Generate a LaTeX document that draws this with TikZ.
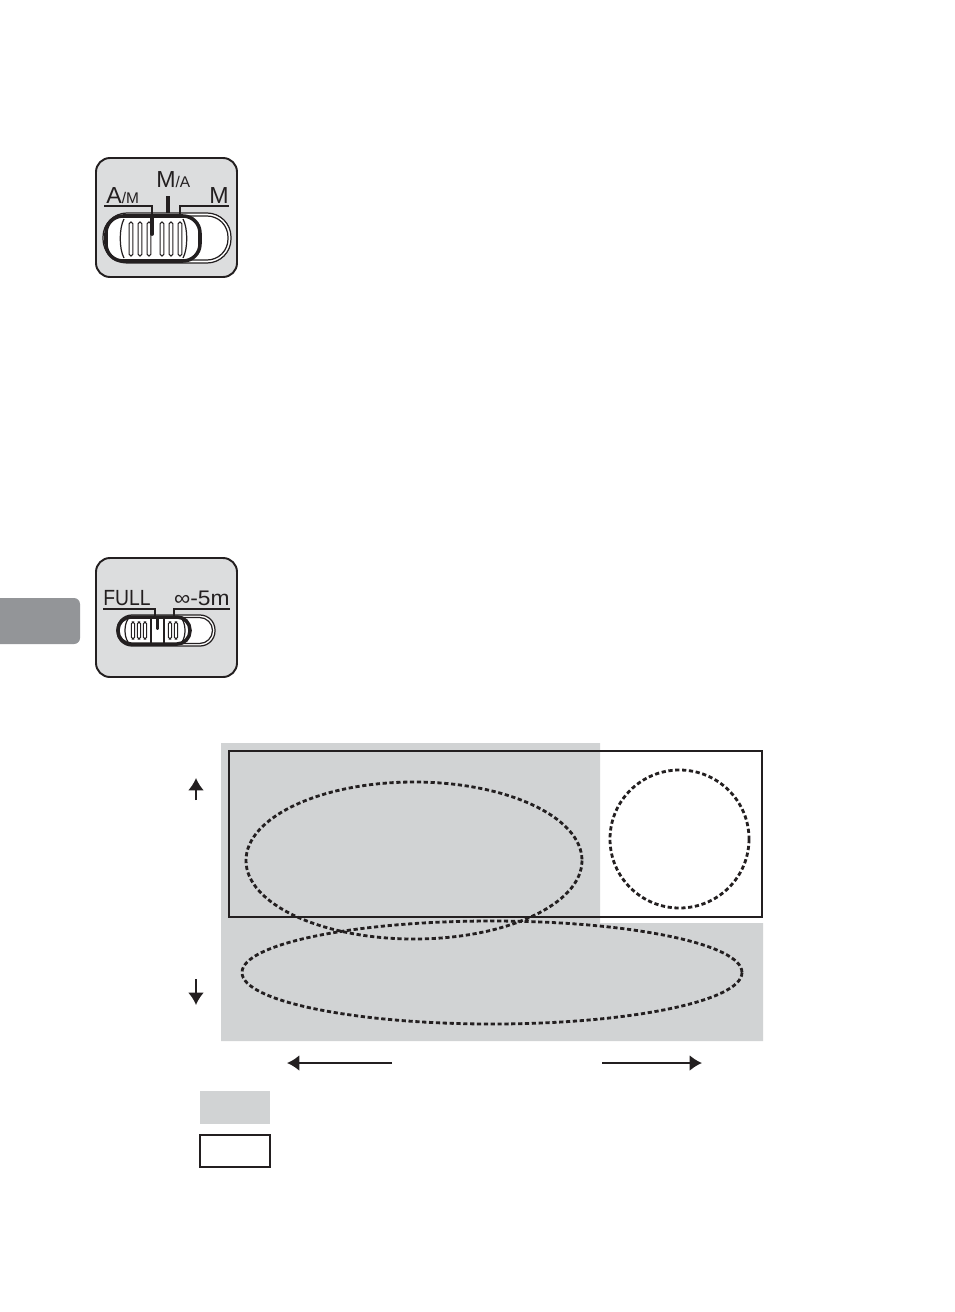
\documentclass[tikz,border=0pt]{standalone}
\usepackage{fontspec}
\setmainfont{Liberation Sans}
\usetikzlibrary{arrows.meta}
\definecolor{swbg}{HTML}{DCDDDE}
\definecolor{ink}{HTML}{231F20}
\definecolor{tabgray}{HTML}{939598}
\definecolor{zone}{HTML}{D1D3D4}
\tikzset{
  swbody/.style={draw=ink, line width=1.1pt, fill=swbg, rounded corners=0.28cm},
  slotline/.style={draw=ink, line width=0.7pt},
  slider/.style={draw=ink, line width=2pt, fill=white},
  ridge/.style={draw=ink, line width=0.6pt, fill=white, rounded corners=0.035cm},
  markline/.style={draw=ink, line width=1.1pt},
  pointer/.style={draw=ink, line width=2.2pt, line cap=round},
  dotline/.style={draw=ink, line width=1.6pt, dash pattern=on 2.4pt off 1.5pt},
  frame/.style={draw=ink, line width=1.2pt},
  moveA/.style={draw=ink, line width=1.2pt, -{Latex[length=7pt,width=9pt]}},
  lbl/.style={inner sep=0pt, text=ink}
}
\newcommand{\bigtx}{\fontsize{13.2}{13}\selectfont}
\newcommand{\smalltx}{\fontsize{8.8}{9}\selectfont}
\begin{document}
\begin{tikzpicture}[x=0.02cm, y=-0.02cm]
\useasboundingbox (0,0) rectangle (954,1312);
\fill[white] (0,0) rectangle (954,1312);

% ---------- Switch 1: A/M  M/A  M ----------
\draw[swbody] (96,158) rectangle (237,277);
% slot (double outline)
\draw[slotline, fill=white, rounded corners=0.48cm] (103,213) rectangle (231,263);
\draw[slotline, rounded corners=0.42cm] (106,216) rectangle (228,260);
% slider
\draw[slider, rounded corners=0.34cm] (106,216) rectangle (200,261);
\draw[ink, line width=0.7pt] (124,219) .. controls (119,228) and (119,249) .. (124,258);
\draw[ink, line width=0.7pt] (183,219) .. controls (188,228) and (188,249) .. (183,258);
\foreach \rx in {131,140,149,162,171,180}{
  \draw[ridge] (\rx-1.8,222) rectangle (\rx+1.8,256);
}
\draw[pointer] (152,217) -- (152,234);
% index marks
\draw[markline] (104,206) -- (152,206) -- (152,214);
\draw[markline] (180,214) -- (180,206) -- (229,206);
\draw[ink, line width=2.2pt] (168,196) -- (168,213);
% labels
\node[lbl, anchor=base west] (lblAM) at (106,203) {\bigtx A\smalltx/M};
\node[lbl, anchor=base west] (lblMA) at (156,187) {\bigtx M\smalltx/A};
\node[lbl, anchor=base east] (lblM) at (229,203) {\bigtx M};

% ---------- side tab ----------
\fill[tabgray, rounded corners=0.12cm] (-10,598) rectangle (80,644);

% ---------- Switch 2: FULL  oo-5m ----------
\draw[swbody] (96,558) rectangle (237,677);
\draw[slotline, fill=white, rounded corners=0.3cm] (117,615) rectangle (215,646);
\draw[slotline, rounded corners=0.26cm] (120,617.5) rectangle (212.5,643.5);
\draw[slider, rounded corners=0.26cm] (118,617) rectangle (190,644);
\draw[ink, line width=0.7pt] (128,619) .. controls (124,625) and (124,636) .. (128,642);
\draw[ink, line width=0.7pt] (182,619) .. controls (186,625) and (186,636) .. (182,642);
\foreach \rx in {133,139,145,170,176}{
  \draw[ridge] (\rx-1.6,622) rectangle (\rx+1.6,639);
}
\draw[ink, line width=0.7pt] (151,618) -- (151,643);
\draw[ink, line width=0.7pt] (164,618) -- (164,643);
\draw[pointer] (157.5,618) -- (157.5,628);
\draw[markline] (103,609) -- (155,609) -- (155,617);
\draw[markline] (174,617) -- (174,609) -- (230,609);
\node[lbl, anchor=base west, xscale=0.88] (lblFULL) at (103,605) {\fontsize{12.5}{12}\selectfont FULL};
\node[lbl, anchor=base east, xscale=1.08] (lblINF) at (230,605) {\fontsize{12}{12}\selectfont ∞-5m};

% ---------- Focus zone diagram ----------
\fill[zone] (221,743) -- (600,743) -- (600,923) -- (763,923) -- (763,1041) -- (221,1041) -- cycle;
\draw[frame] (229,751) rectangle (762,917);
\draw[dotline] (414,860.5) ellipse (168 and 78.5);
\draw[dotline] (679.5,839) ellipse (69.5 and 69);
\draw[dotline] (492,972.5) ellipse (250 and 51.5);

% vertical arrows
\coordinate (upS) at (196,800);
\coordinate (upE) at (196,778);
\coordinate (dnS) at (196,979);
\coordinate (dnE) at (196,1005);
\draw[moveA] (upS) -- (upE);
\draw[moveA] (dnS) -- (dnE);
% horizontal arrows
\coordinate (lfS) at (392,1063);
\coordinate (lfE) at (287,1063);
\coordinate (rtS) at (602,1063);
\coordinate (rtE) at (702,1063);
\draw[moveA] (lfS) -- (lfE);
\draw[moveA] (rtS) -- (rtE);

% legend
\fill[zone] (200,1091) rectangle (270,1124);
\draw[frame, fill=white] (200,1135) rectangle (270,1167);
\end{tikzpicture}
\end{document}
